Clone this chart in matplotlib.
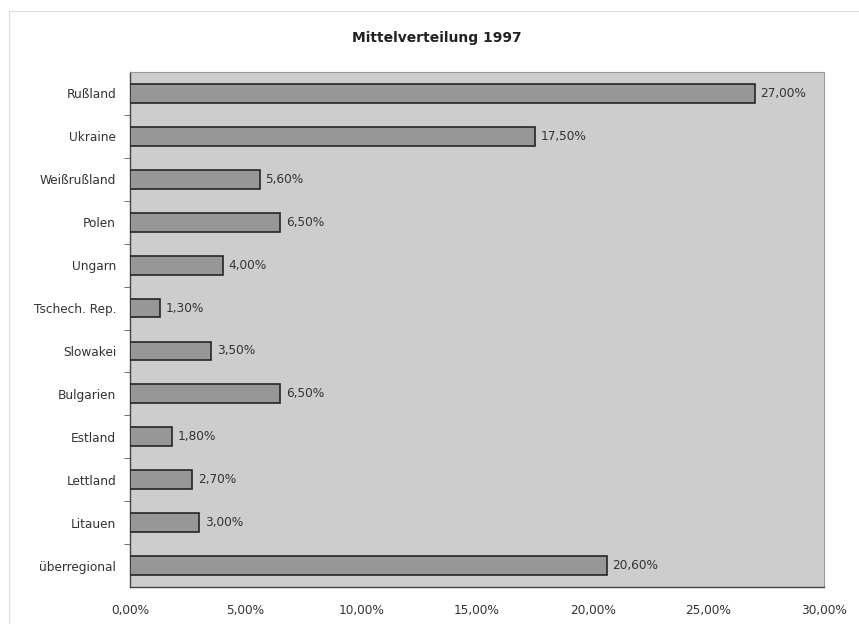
import matplotlib
matplotlib.use("Agg")
import matplotlib.pyplot as plt
from matplotlib.ticker import FuncFormatter, FixedLocator

plt.rcParams['font.family'] = ['DejaVu Sans']

categories = ["Rußland", "Ukraine", "Weißrußland", "Polen", "Ungarn",
              "Tschech. Rep.", "Slowakei", "Bulgarien", "Estland",
              "Lettland", "Litauen", "überregional"]
values = [27.0, 17.5, 5.6, 6.5, 4.0, 1.3, 3.5, 6.5, 1.8, 2.7, 3.0, 20.6]
xticks = [0, 5, 10, 15, 20, 25, 30]

text_col = "#333333"

fig = plt.figure(figsize=(8.59, 6.24), dpi=100)
fig.patch.set_facecolor("white")

# faint outer chart frame
frame = plt.Rectangle((9 / 859, -0.1), 1.2, 1 - 11 / 624 + 0.1,
                      transform=fig.transFigure, fill=False,
                      edgecolor="#dddddd", linewidth=0.8)
fig.add_artist(frame)

left, right = 130 / 859, 824 / 859
top, bottom = 1 - 72 / 624, 1 - 587 / 624
ax = fig.add_axes([left, bottom, right - left, top - bottom])
ax.set_facecolor("#cdcdcd")

n = len(categories)
pos = list(range(n))
ax.barh(pos, values, height=0.44, color="#979797",
        edgecolor="#262626", linewidth=1.2, zorder=3)

for p, v in zip(pos, values):
    ax.text(v + 0.25, p, f"{v:.2f}%".replace(".", ","), va="center",
            ha="left", fontsize=8.7, color=text_col, zorder=4)

ax.set_xlim(0, 30)
ax.set_ylim(n - 0.5, -0.5)
ax.set_yticks(pos)
ax.set_yticklabels(categories, fontsize=8.7, color=text_col)
ax.yaxis.set_minor_locator(FixedLocator([p + 0.5 for p in pos[:-1]]))
ax.tick_params(axis="y", which="major", length=0, pad=10)
ax.tick_params(axis="y", which="minor", length=4, color="#555555", direction="out")

ax.set_xticks(xticks)
ax.xaxis.set_major_formatter(FuncFormatter(lambda x, _: f"{x:.2f}%".replace(".", ",")))
ax.tick_params(axis="x", length=0, pad=12, labelsize=8.7, labelcolor=text_col)

for side in ("left", "bottom"):
    ax.spines[side].set_color("#444444")
    ax.spines[side].set_linewidth(1.0)
for side in ("top", "right"):
    ax.spines[side].set_color("#999999")
    ax.spines[side].set_linewidth(0.8)

fig.text(437 / 859, 1 - 38 / 624, "Mittelverteilung 1997", ha="center",
         va="center", fontsize=10, fontweight="bold", color="#222222")

fig.savefig("out.png", dpi=100, facecolor="white")
